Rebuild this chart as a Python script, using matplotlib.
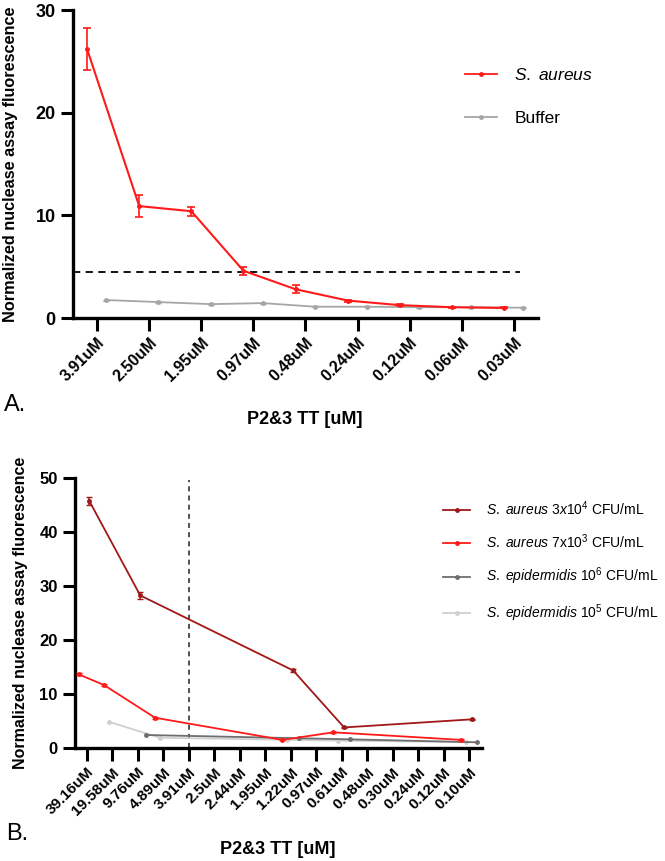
import numpy as np
import matplotlib
matplotlib.use("Agg")
import matplotlib.pyplot as plt
from matplotlib.lines import Line2D

plt.rcParams['font.family'] = ['Liberation Sans', 'DejaVu Sans']
plt.rcParams['mathtext.fontset'] = 'custom'
plt.rcParams['mathtext.rm'] = 'Liberation Sans'
plt.rcParams['mathtext.it'] = 'Liberation Sans:italic'

# ---- Panel A data ----
conc_a = ['3.91uM', '2.50uM', '1.95uM', '0.97uM', '0.48uM', '0.24uM', '0.12uM', '0.06uM', '0.03uM']
saureus_a = [26.2, 10.9, 10.4, 4.6, 2.8, 1.7, 1.25, 1.05, 0.98]
saureus_a_err = [2.0, 1.05, 0.45, 0.4, 0.4, 0.1, 0.1, 0.05, 0.05]
buffer_a = [1.75, 1.55, 1.35, 1.45, 1.1, 1.1, 1.05, 1.05, 1.0]
buffer_a_err = [0.05, 0.1, 0.05, 0.05, 0.05, 0.05, 0.05, 0.05, 0.05]
threshold_a = 4.5

# ---- Panel B data ----
conc_b = ['39.16uM', '19.58uM', '9.76uM', '4.89uM', '3.91uM', '2.5uM', '2.44uM', '1.95uM',
          '1.22uM', '0.97uM', '0.61uM', '0.48uM', '0.30uM', '0.24uM', '0.12uM', '0.10uM']
sa3e4_x = ['39.16uM', '9.76uM', '1.22uM', '0.61uM', '0.10uM']
sa3e4 = [45.7, 28.2, 14.3, 3.75, 5.25]
sa3e4_err = [0.7, 0.7, 0.3, 0.15, 0.15]
sa7e3_x = ['39.16uM', '19.58uM', '4.89uM', '1.22uM', '0.61uM', '0.10uM']
sa7e3 = [13.6, 11.6, 5.55, 1.45, 2.85, 1.45]
sa7e3_err = [0.15, 0.2, 0.15, 0.1, 0.1, 0.1]
se1e6_x = ['9.76uM', '1.22uM', '0.61uM', '0.10uM']
se1e6 = [2.35, 1.75, 1.55, 1.0]
se1e5_x = ['19.58uM', '4.89uM', '1.22uM', '0.61uM', '0.10uM']
se1e5 = [4.8, 1.85, 1.45, 1.3, 1.05]
cutoff_b = '3.91uM'

ylabel = 'Normalized nuclease assay fluorescence'
xlabel = 'P2&3 TT [uM]'

RED = '#ff1a1a'
DARKRED = '#a01818'
DARKGRAY = '#6e6e6e'
LIGHTGRAY = '#d0d0d0'
MIDGRAY = '#a6a6a6'


def style_axes(ax, fs_tick, fs_x):
    for s in ['top', 'right']:
        ax.spines[s].set_visible(False)
    for s in ['left', 'bottom']:
        ax.spines[s].set_linewidth(2.4)
    ax.tick_params(axis='both', width=2.2, length=9, direction='out')
    for lab in ax.get_yticklabels():
        lab.set_fontweight('bold')
        lab.set_fontsize(fs_tick)
    for lab in ax.get_xticklabels():
        lab.set_fontweight('bold')
        lab.set_fontsize(fs_x)
        lab.set_rotation(45)
        lab.set_ha('right')
        lab.set_rotation_mode('anchor')


def proxy(color):
    return Line2D([], [], color=color, lw=1.3, marker='o', ms=2.5)


fig = plt.figure(figsize=(6.65, 8.61), dpi=100)

# ---------------- Panel A ----------------
axA = fig.add_axes([73 / 665, 1 - 318 / 861, 465 / 665, 308 / 861])
xa = np.arange(len(conc_a))
axA.errorbar(xa - 0.19, saureus_a, yerr=saureus_a_err, color=RED, lw=1.5,
             marker='o', ms=2.5, capsize=3, elinewidth=1.2, capthick=1.2, zorder=4)
axA.errorbar(xa + 0.18, buffer_a, yerr=buffer_a_err, color=MIDGRAY, lw=1.3,
             marker='o', ms=2.5, capsize=2, elinewidth=1, zorder=3)
axA.axhline(threshold_a, xmin=0, xmax=0.961, color='black', lw=1.3,
            linestyle=(0, (4, 3)), zorder=2)
axA.set_xlim(-0.46, 8.46)
axA.set_ylim(0, 30)
axA.set_yticks([0, 10, 20, 30])
axA.set_xticks(xa)
axA.set_xticklabels(conc_a)
style_axes(axA, 13, 11.5)
axA.legend([proxy(RED), proxy(MIDGRAY)], [r'$\mathit{S.\ aureus}$', 'Buffer'],
           loc='upper left', bbox_to_anchor=(0.824, 0.843), frameon=False, borderpad=0,
           fontsize=12.5, handlelength=1.85, handletextpad=1.0, labelspacing=1.6)
axA.set_ylabel(ylabel, fontsize=11.7, fontweight='bold')
axA.yaxis.set_label_coords(-0.118, 0.5)
fig.text(305 / 665, 1 - 420 / 861, xlabel, ha='center', va='center',
         fontsize=13, fontweight='bold')
fig.text(4 / 665, 1 - 405 / 861, 'A.', ha='left', va='center', fontsize=17)

# ---------------- Panel B ----------------
axB = fig.add_axes([75 / 665, 1 - 747.7 / 861, 407 / 665, 270 / 861])
xb = np.arange(len(conc_b))


def idx(labels):
    return np.array([conc_b.index(c) for c in labels])


axB.errorbar(idx(sa3e4_x) + 0.1, sa3e4, yerr=sa3e4_err, color=DARKRED, lw=1.3,
             marker='o', ms=2.5, capsize=2.5, elinewidth=1.1, zorder=5)
axB.errorbar(idx(sa7e3_x) - 0.32, sa7e3, yerr=sa7e3_err, color=RED, lw=1.3,
             marker='o', ms=2.5, capsize=2, elinewidth=1, zorder=4)
axB.plot(idx(se1e6_x) + 0.33, se1e6, color=DARKGRAY, lw=1.3, marker='o', ms=2.5, zorder=3)
axB.plot(idx(se1e5_x) - 0.13, se1e5, color=LIGHTGRAY, lw=1.3, marker='o', ms=2.5, zorder=2)
axB.axvline(conc_b.index(cutoff_b), ymin=0, ymax=0.99, color='#333333', lw=1.2,
            linestyle=(0, (3, 2.5)), zorder=1)
axB.set_xlim(-0.46, 15.51)
axB.set_ylim(0, 50)
axB.set_yticks([0, 10, 20, 30, 40, 50])
axB.set_xticks(xb)
axB.set_xticklabels(conc_b)
style_axes(axB, 12, 11)
labels_b = [r'$\mathit{S.\ aureus\ 3x}10^4$ CFU/mL',
            r'$\mathit{S.\ aureus}$ 7x10$^3$ CFU/mL',
            r'$\mathit{S.\ epidermidis}$ 10$^6$ CFU/mL',
            r'$\mathit{S.\ epidermidis}$ 10$^5$ CFU/mL']
axB.legend([proxy(DARKRED), proxy(RED), proxy(DARKGRAY), proxy(LIGHTGRAY)], labels_b,
           loc='upper left', bbox_to_anchor=(0.888, 0.945), frameon=False, borderpad=0,
           fontsize=10, handlelength=1.9, handletextpad=1.15, labelspacing=1.05)
axB.set_ylabel(ylabel, fontsize=11.5, fontweight='bold')
axB.yaxis.set_label_coords(-0.115, 0.5)
fig.text(278 / 665, 1 - 850 / 861, xlabel, ha='center', va='center',
         fontsize=13, fontweight='bold')
fig.text(6 / 665, 1 - 834 / 861, 'B.', ha='left', va='center', fontsize=17)

fig.savefig('out.png', dpi=100)
